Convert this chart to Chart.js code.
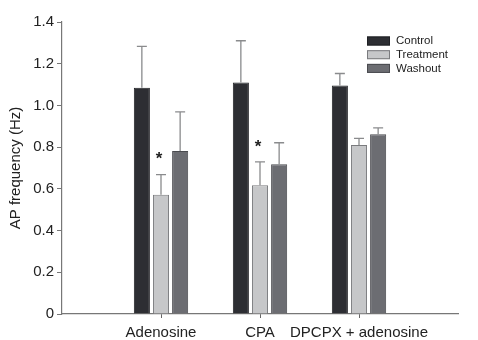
<!DOCTYPE html>
<html>
<head>
<meta charset="utf-8">
<script src="https://cdn.jsdelivr.net/npm/chart.js@4"></script>
<style>
  html, body { margin: 0; padding: 0; background: #fff; }
  #wrap { width: 478px; height: 340px; }
</style>
</head>
<body>
<div id="wrap"><canvas id="apChart" width="478" height="340"></canvas></div>
<script>
// categories (empty slots at the ends pad the axis like the original figure)
const categories = ['', 'Adenosine', 'CPA', 'DPCPX + adenosine', ''];
const seriesNames = ['Control', 'Treatment', 'Washout'];

// mean AP frequency (Hz)
const controlValues   = [null, 1.085, 1.11, 1.095, null];
const treatmentValues = [null, 0.572, 0.617, 0.81, null];
const washoutValues   = [null, 0.782, 0.718, 0.862, null];

// upper error (SEM)
const controlErrors   = [null, 0.198, 0.2, 0.058, null];
const treatmentErrors = [null, 0.096, 0.112, 0.032, null];
const washoutErrors   = [null, 0.187, 0.103, 0.03, null];

// significance marks on Treatment
const significant = [false, true, true, false, false];

const yTicks = [0, 0.2, 0.4, 0.6, 0.8, 1.0, 1.2, 1.4];

const fontFamily = '"Liberation Sans", Arial, Helvetica, sans-serif';
const barColors = ['#2d2e33', '#c6c7c9', '#6c6d72'];
const barBorders = ['#1f2024', '#7a7b7e', '#4a4b4f'];
const errorSets = [controlErrors, treatmentErrors, washoutErrors];

// error bars + asterisks
const errorBarPlugin = {
    id: 'errorBars',
    afterDatasetsDraw(chart) {
        const ctx = chart.ctx;
        const yScale = chart.scales.y;
        ctx.save();
        chart.data.datasets.forEach(function(ds, i) {
            const meta = chart.getDatasetMeta(i);
            meta.data.forEach(function(bar, j) {
                const v = ds.data[j];
                const e = errorSets[i][j];
                if (v == null || e == null) return;
                const yTop = yScale.getPixelForValue(v + e);
                const yBar = yScale.getPixelForValue(v);
                ctx.strokeStyle = '#8a8b8d';
                ctx.lineWidth = 1.3;
                ctx.beginPath();
                ctx.moveTo(bar.x, yBar);
                ctx.lineTo(bar.x, yTop);
                ctx.moveTo(bar.x - 5, yTop);
                ctx.lineTo(bar.x + 5, yTop);
                ctx.stroke();
                if (i === 1 && significant[j]) {
                    ctx.fillStyle = '#222';
                    ctx.font = 'bold 17px ' + fontFamily;
                    ctx.textAlign = 'center';
                    ctx.textBaseline = 'middle';
                    ctx.fillText('*', bar.x - 2, yTop - 15);
                }
            });
        });
        ctx.restore();
    }
};

// legend box at the top right
const legendPlugin = {
    id: 'cornerLegend',
    afterDraw(chart) {
        const ctx = chart.ctx;
        ctx.save();
        ctx.font = '11.5px ' + fontFamily;
        ctx.textBaseline = 'middle';
        ctx.textAlign = 'left';
        chart.data.datasets.forEach(function(ds, i) {
            const y = 41 + i * 13.7;
            ctx.fillStyle = ds.backgroundColor;
            ctx.fillRect(367, y - 4.5, 23, 9);
            ctx.strokeStyle = ds.borderColor;
            ctx.lineWidth = 1;
            ctx.strokeRect(367.5, y - 4, 22, 8);
            ctx.fillStyle = '#222';
            ctx.fillText(ds.label, 396, y);
        });
        ctx.restore();
    }
};

const datasets = [controlValues, treatmentValues, washoutValues].map(function(vals, i) {
    return {
        label: seriesNames[i],
        data: vals,
        backgroundColor: barColors[i],
        borderColor: barBorders[i],
        borderWidth: 1,
        categoryPercentage: 0.58,
        barPercentage: 0.84
    };
});

new Chart(document.getElementById('apChart'), {
    type: 'bar',
    data: { labels: categories, datasets: datasets },
    options: {
        responsive: false,
        animation: false,
        layout: { padding: { left: 0, right: 20, top: 22, bottom: 0 } },
        plugins: {
            legend: { display: false },
            tooltip: { enabled: false }
        },
        scales: {
            x: {
                offset: false,
                grid: {
                    offset: false,
                    drawOnChartArea: false,
                    tickLength: 4,
                    tickColor: function(c) {
                        return categories[c.index] ? '#666' : 'rgba(0,0,0,0)';
                    }
                },
                border: { color: '#777', width: 1.2 },
                ticks: {
                    color: '#222',
                    font: { family: fontFamily, size: 15 },
                    padding: 6,
                    maxRotation: 0,
                    autoSkip: false
                },
                afterFit: function(scale) { scale.height = 26; }
            },
            y: {
                min: 0,
                max: 1.4,
                afterBuildTicks: function(scale) {
                    scale.ticks = yTicks.map(function(v) { return { value: v }; });
                },
                grid: { drawOnChartArea: false, tickLength: 5, tickColor: '#777' },
                border: { color: '#777', width: 1.2 },
                ticks: {
                    color: '#222',
                    font: { family: fontFamily, size: 15 },
                    padding: 3,
                    callback: function(v) { return v === 0 ? '0' : v.toFixed(1); }
                },
                title: {
                    display: true,
                    text: 'AP frequency (Hz)',
                    color: '#222',
                    font: { family: fontFamily, size: 15 },
                    padding: { top: 7, bottom: 0 }
                },
                afterFit: function(scale) { scale.width = 62; }
            }
        }
    },
    plugins: [errorBarPlugin, legendPlugin]
});
</script>
</body>
</html>
